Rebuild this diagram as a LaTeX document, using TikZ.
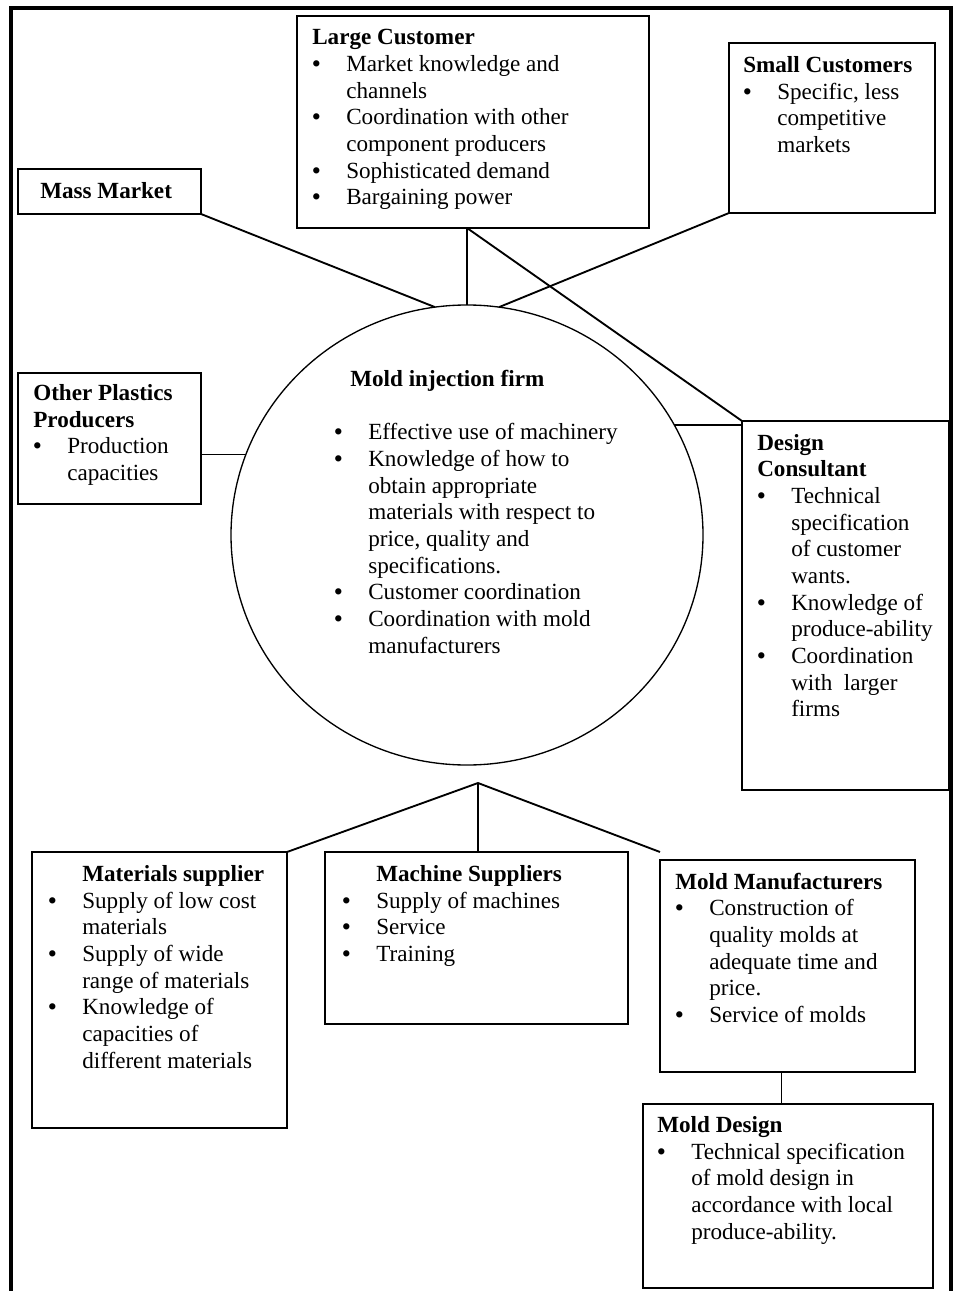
\documentclass[tikz,border=0pt]{standalone}
\usepackage{fontspec}
\setmainfont{Liberation Serif}
\usetikzlibrary{shapes.geometric}
\newlength\bi
\setlength\bi{25.5pt}
% heading spanning both columns, and a bullet cell of fixed width
\newcommand\hd[1]{\multicolumn{2}{@{}l@{}}{\textbf{#1}}}
\newcommand\bu{\makebox[\bi][l]{\textbf{\textbullet}}}

\begin{document}
\begin{tikzpicture}[x=0.75pt,y=-0.75pt,
  box/.style={draw,line width=1.1pt,inner sep=0pt,outer sep=0pt,anchor=north west},
  txt/.style={inner sep=0pt,anchor=base west,font=\fontsize{17.35pt}{20pt}\selectfont},
  link/.style={line width=1.4pt}]
\useasboundingbox (0,0) rectangle (956,1291);

% outer frame, open at the bottom
\draw[line width=2.4pt] (11,1291) -- (11,8) -- (951,8) -- (951,1291);

% central firm
\node[draw,ellipse,line width=1pt,inner sep=0pt,outer sep=0pt,
      minimum width=354pt,minimum height=345pt] (firm) at (467,535) {};

% surrounding boxes
\node[box,minimum width=264pt,minimum height=159pt] (lc) at (297,16) {};
\node[box,minimum width=154.5pt,minimum height=127.5pt] (sc) at (729,43) {};
\node[box,minimum width=137.25pt,minimum height=33.75pt] (mass) at (18,169) {};
\node[box,minimum width=137.25pt,minimum height=98.25pt] (op) at (18,373) {};
\node[box,minimum width=155.25pt,minimum height=276.75pt] (dc) at (742,421) {};
\node[box,minimum width=191.25pt,minimum height=207pt] (ms) at (32,852) {};
\node[box,minimum width=227.25pt,minimum height=129pt] (mach) at (325,852) {};
\node[box,minimum width=191.25pt,minimum height=159pt] (mm) at (660,860) {};
\node[box,minimum width=217.5pt,minimum height=138pt] (md) at (643,1104) {};

% texts
\node[txt] (lct) at (312,45) {\begin{tabular}[t]{@{}l@{}l@{}}
\hd{Large Customer}\\
\bu & Market knowledge and\\
    & channels\\
\bu & Coordination with other\\
    & component producers\\
\bu & Sophisticated demand\\
\bu & Bargaining power
\end{tabular}};

\node[txt] (sct) at (743,72.5) {\begin{tabular}[t]{@{}l@{}l@{}}
\hd{Small Customers}\\
\bu & Specific, less\\
    & competitive\\
    & markets
\end{tabular}};

\node[txt] (masst) at (40,199) {\textbf{Mass Market}};

\node[txt] (opt) at (33,400.5) {\begin{tabular}[t]{@{}l@{}l@{}}
\hd{Other Plastics}\\
\hd{Producers}\\
\bu & Production\\
    & capacities
\end{tabular}};

\node[txt] (firmt) at (334,386.5) {\begin{tabular}[t]{@{}l@{}l@{}}
\multicolumn{2}{@{}l@{}}{\hspace*{12pt}\textbf{Mold injection firm}}\\
    & \\
\bu & Effective use of machinery\\
\bu & Knowledge of how to\\
    & obtain appropriate\\
    & materials with respect to\\
    & price, quality and\\
    & specifications.\\
\bu & Customer coordination\\
\bu & Coordination with mold\\
    & manufacturers
\end{tabular}};

\node[txt] (dct) at (757,450) {\begin{tabular}[t]{@{}l@{}l@{}}
\hd{Design}\\
\hd{Consultant}\\
\bu & Technical\\
    & specification\\
    & of customer\\
    & wants.\\
\bu & Knowledge of\\
    & produce-ability\\
\bu & Coordination\\
    & with\ \ larger\\
    & firms
\end{tabular}};

\node[txt] (mst) at (48,881.5) {\begin{tabular}[t]{@{}l@{}l@{}}
    & \textbf{Materials supplier}\\
\bu & Supply of low cost\\
    & materials\\
\bu & Supply of wide\\
    & range of materials\\
\bu & Knowledge of\\
    & capacities of\\
    & different materials
\end{tabular}};

\node[txt] (macht) at (342,881.5) {\begin{tabular}[t]{@{}l@{}l@{}}
    & \textbf{Machine Suppliers}\\
\bu & Supply of machines\\
\bu & Service\\
\bu & Training
\end{tabular}};

\node[txt] (mmt) at (675,889) {\begin{tabular}[t]{@{}l@{}l@{}}
\hd{Mold Manufacturers}\\
\bu & Construction of\\
    & quality molds at\\
    & adequate time and\\
    & price.\\
\bu & Service of molds
\end{tabular}};

\node[txt] (mdt) at (657,1132.5) {\begin{tabular}[t]{@{}l@{}l@{}}
\hd{Mold Design}\\
\bu & Technical specification\\
    & of mold design in\\
    & accordance with local\\
    & produce-ability.
\end{tabular}};

% connectors
\draw[link] (mass.south east) -- (firm.98);
\draw[link] (firm.north |- lc.south) -- (firm.north);
\draw[link] (firm.north |- lc.south) -- (dc.north west);
\draw[link] (sc.south west) -- (firm.82);
\draw[link] (firm.160 -| op.east) -- (firm.160);
\draw[link] (firm.28) -- (firm.28 -| dc.west);

\coordinate (hub) at (478,783);
\coordinate (mmtip) at ([yshift=6pt]mm.north west);
\draw[link] (ms.north east) -- (hub) -- (mmtip);
\draw[link] (hub) -- (hub |- mach.north);
\draw[link] ([xshift=-4.5pt]mm.south) -- ([xshift=-4.5pt]mm.south |- md.north);
\end{tikzpicture}
\end{document}
